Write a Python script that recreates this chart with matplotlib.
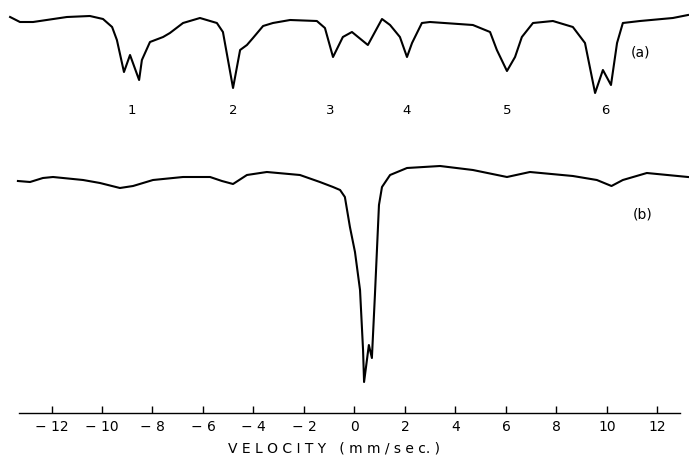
import matplotlib
matplotlib.use("Agg")
import matplotlib.pyplot as plt

# spectrum (a): velocity (mm/sec) and relative transmission (%)
vel_a = [-13.64, -13.25, -12.73, -11.39, -10.48, -9.96, -9.60, -9.41, -9.13, -8.89,
         -8.53, -8.42, -8.10, -7.58, -7.31, -6.79, -6.12, -5.45, -5.21, -4.81,
         -4.53, -4.26, -4.02, -3.62, -3.23, -2.55, -1.49, -1.17, -0.85, -0.46,
         -0.10, 0.53, 1.09, 1.41, 1.80, 2.08, 2.28, 2.67, 2.99, 4.69,
         5.37, 5.64, 6.04, 6.36, 6.63, 7.07, 7.86, 8.65, 9.13, 9.53,
         9.84, 10.16, 10.40, 10.63, 11.31, 12.61, 13.21]
trans_a = [99.75, 98.5, 98.5, 99.75, 100, 99.25, 97.25, 94, 86, 90.25,
           84, 89, 93.5, 94.75, 95.75, 98.25, 99.5, 98.25, 96, 82,
           91.5, 92.75, 94.5, 97.5, 98.25, 99, 98.75, 97, 89.75, 94.75,
           96, 92.75, 99.25, 97.75, 94.75, 89.75, 93.25, 98.25, 98.5, 97.75,
           96, 91.5, 86.25, 89.75, 94.75, 98.25, 98.75, 97.25, 93.25, 80.75,
           86.5, 82.75, 93.25, 98.25, 98.75, 99.5, 100.25]

# spectrum (b)
vel_b = [-13.33, -12.85, -12.34, -11.94, -10.75, -10.08, -9.29, -8.77, -7.98, -6.79,
         -5.72, -5.25, -4.81, -4.26, -3.47, -2.16, -1.37, -0.85, -0.57, -0.38,
         -0.18, 0.02, 0.22, 0.34, 0.38, 0.57, 0.69, 0.81, 0.89, 0.97,
         1.09, 1.41, 2.08, 3.39, 4.69, 6.04, 6.95, 8.65, 9.60, 10.18,
         10.63, 11.58, 13.21]
trans_b = [96.5, 96.25, 97.25, 97.5, 96.75, 96, 94.75, 95.25, 96.75, 97.5,
           97.5, 96.5, 95.75, 98, 98.75, 98, 96.25, 95, 94.25, 92.5,
           85, 78.75, 69.25, 54.25, 46.25, 55.5, 52.25, 68, 79.25, 90.5,
           95, 98, 99.75, 100.25, 99.25, 97.5, 98.75, 97.75, 96.75, 95.25,
           96.75, 98.5, 97.5]

line_labels = ["1", "2", "3", "4", "5", "6"]
line_vel = [-8.81, -4.81, -0.97, 2.08, 6.04, 9.92]

ticks = [-12, -10, -8, -6, -4, -2, 0, 2, 4, 6, 8, 10, 12]
tick_labels = [("\u2212 " + str(-t)) if t < 0 else str(t) for t in ticks]

offset_a = -0.75
offset_b = -38.5

fig = plt.figure(figsize=(6.89, 4.67), dpi=100)
ax = fig.add_axes([0, 54 / 467, 1, 413 / 467])

ax.plot(vel_a, [t + offset_a for t in trans_a], color="black", lw=1.5)
ax.plot(vel_b, [t + offset_b for t in trans_b], color="black", lw=1.5)

for lab, v in zip(line_labels, line_vel):
    ax.text(v, 75.5, lab, ha="center", va="center", fontsize=9.5)
ax.text(11.31, 90, "(a)", ha="center", va="center", fontsize=10)
ax.text(11.43, 49.5, "(b)", ha="center", va="center", fontsize=10)

ax.set_xlim(-14.04, 13.25)
ax.set_ylim(0, 103.25)
for s in ["top", "left", "right"]:
    ax.spines[s].set_visible(False)
ax.spines["bottom"].set_bounds(-13.3, 12.9)
ax.spines["bottom"].set_linewidth(1.0)
ax.set_yticks([])
ax.set_xticks(ticks)
ax.set_xticklabels(tick_labels, fontsize=10)
ax.tick_params(axis="x", direction="in", length=5, width=1, pad=5)

fig.text(0.485, 1 - 448 / 467, "V E L O C I T Y   ( m m / s e c. )",
         ha="center", va="center", fontsize=10)

fig.savefig("out.png", dpi=100, facecolor="white")
